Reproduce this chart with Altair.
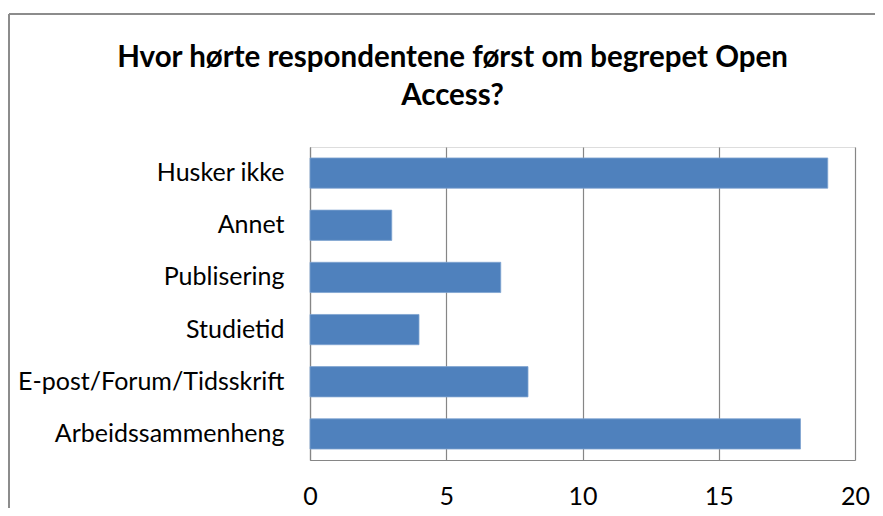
import altair as alt
import pandas as pd

categories = ["Husker ikke", "Annet", "Publisering", "Studietid", "E-post/Forum/Tidsskrift", "Arbeidssammenheng"]
values = [19, 3, 7, 4, 8, 18]
x_ticks = [0, 5, 10, 15, 20]
title_lines = ["Hvor hørte respondentene først om begrepet Open", "Access?"]

df = pd.DataFrame({"kategori": categories, "antall": values})

FONT = "Lato"
GRID = "#868686"

bars = alt.Chart(df).mark_bar(color="#4F81BD", stroke="#7FA3D1", strokeWidth=0.8).encode(
    x=alt.X("antall:Q", scale=alt.Scale(domain=[0, 20], nice=False),
            axis=alt.Axis(values=x_ticks, title=None, grid=True, gridColor=GRID, gridWidth=1.2,
                          domainColor=GRID, domainWidth=1.2, ticks=False, labelFlush=False,
                          labelFont=FONT, labelFontSize=25, labelColor="#000000", labelPadding=24)),
    y=alt.Y("kategori:N", sort=categories,
            scale=alt.Scale(paddingInner=0.42, paddingOuter=0.21),
            axis=alt.Axis(title=None, ticks=False, domainColor=GRID, domainWidth=1.2,
                          labelFont=FONT, labelFontSize=25, labelColor="#000000", labelPadding=26,
                          labelLimit=400)),
)

frame_top = alt.Chart(df).mark_rule(color="#8C8C8C", strokeWidth=1.5).encode(
    x=alt.value(-301), x2=alt.value(580), y=alt.value(-133)
)
frame_left = alt.Chart(df).mark_rule(color="#8C8C8C", strokeWidth=1.5).encode(
    x=alt.value(-301), y=alt.value(-133), y2=alt.value(400)
)

chart = alt.layer(frame_top, frame_left, bars).properties(
    width=545,
    height=313,
    autosize=alt.AutoSizeParams(type="none"),
    padding={"left": 302, "top": 139, "right": 20, "bottom": 48},
    title=alt.TitleParams(text=title_lines, font=FONT, fontSize=29.5, fontWeight="bold",
                          color="#000000", anchor="middle", frame="group", dx=-130, offset=-98,
                          lineHeight=38),
).configure_view(stroke=None).configure(background="white")

chart.save("out.html", embed_options={"renderer": "svg", "actions": False})
